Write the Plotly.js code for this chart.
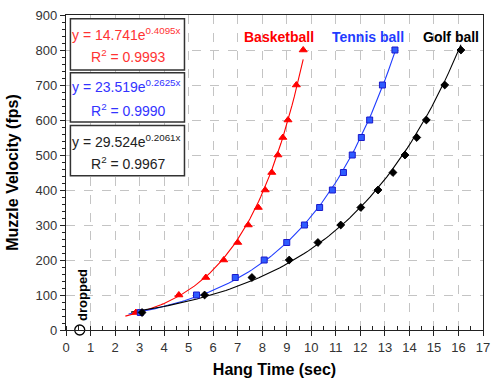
<!DOCTYPE html>
<html><head><meta charset="utf-8">
<script src="https://cdn.plot.ly/plotly-3.0.1.min.js"></script>
<style>html,body{margin:0;padding:0;background:#fff}</style>
</head><body><div id="chart" style="width:497px;height:388px"></div>
<script>
const velocity = [50,100,150,200,250,300,350,400,450,500,550,600,700,800];
const basketballTime = [2.85,4.6,5.7,6.43,7.0,7.43,7.84,8.12,8.39,8.64,8.84,9.05,9.39,9.67];
const tennisTime = [3.03,5.32,6.9,8.08,9.0,9.72,10.34,10.86,11.31,11.67,12.04,12.38,12.9,13.41];
const golfTime = [3.1,5.65,7.58,9.1,10.27,11.2,12.02,12.72,13.33,13.82,14.3,14.69,15.44,16.1];
const seriesNames = ['Basketball','Tennis ball','Golf ball'];
const seriesColors = ['#ff0000','#1f3cff','#000000'];
const fitA = [14.741, 23.519, 29.524];
const fitB = [0.4095, 0.2625, 0.2061];
const fitR2 = ['0.9993','0.9990','0.9967'];
const fitStart = [2.42, 2.55, 2.65];
const fitEnd = [9.67, 13.41, 16.1];
const droppedTime = [0.56];
const droppedVelocity = [0];
const droppedLabel = 'dropped';

const FONT = 'Liberation Sans, Arial, sans-serif';
const times = [basketballTime, tennisTime, golfTime];
const symbols = ['triangle-up','square','diamond'];
const markerFill = ['#ff0000','#2e5bff','#000000'];
const markerLine = ['#ff0000','#1a1acc','#000000'];
const markerSize = [7,6,6];

const traces = [];
for (let i = 0; i < 3; i++) {
  const fx = [], fy = [];
  const n = 80;
  for (let k = 0; k <= n; k++) {
    const x = fitStart[i] + (fitEnd[i] - fitStart[i]) * k / n;
    fx.push(x); fy.push(fitA[i] * Math.exp(fitB[i] * x));
  }
  traces.push({x: fx, y: fy, mode: 'lines', line: {color: seriesColors[i], width: 1.1}, hoverinfo: 'skip', showlegend: false});
}
for (let i = 0; i < 3; i++) {
  traces.push({x: times[i], y: velocity, mode: 'markers', name: seriesNames[i], showlegend: false,
    marker: {symbol: symbols[i], size: markerSize[i], color: markerFill[i], line: {color: markerLine[i], width: 1}}, cliponaxis: false});
}
traces.push({x: droppedTime, y: droppedVelocity, mode: 'markers', showlegend: false, cliponaxis: false,
  marker: {symbol: 'circle', size: 10, color: '#fff'}});
traces.push({x: droppedTime, y: droppedVelocity, mode: 'markers', showlegend: false, cliponaxis: false,
  marker: {symbol: 'circle-open', size: 10, color: '#000', line: {width: 1.3}}});

const annotations = [];
const labelX = [8.68, 12.31, 15.71];
for (let i = 0; i < 3; i++) {
  annotations.push({x: labelX[i], y: 836, xref: 'x', yref: 'y', text: '<b>' + seriesNames[i] + '</b>', showarrow: false,
    font: {family: FONT, size: 14, color: seriesColors[i]}, xanchor: 'center', yanchor: 'middle'});
}
const boxBottom = [743, 594, 441];
const boxTop = [889, 735, 584];
const line1Y = [846, 697, 540];
const line2Y = [783, 629, 477];
const eqColors = ['#ff3333','#3333ff','#222222'];
const shapes = [];
for (let i = 0; i < 3; i++) {
  shapes.push({type: 'rect', xref: 'x', yref: 'y', x0: 0.18, x1: 4.83, y0: boxBottom[i], y1: boxTop[i],
    line: {color: '#333', width: 1.5}, fillcolor: '#fff', layer: 'above'});
  annotations.push({x: 2.45, y: line1Y[i], xref: 'x', yref: 'y', showarrow: false,
    text: 'y = ' + fitA[i].toFixed(3) + 'e<sup>' + fitB[i].toFixed(4) + 'x</sup>',
    font: {family: FONT, size: 14, color: eqColors[i]}, xanchor: 'center', yanchor: 'middle'});
  annotations.push({x: 2.55, y: line2Y[i], xref: 'x', yref: 'y', showarrow: false,
    text: 'R<sup>2</sup> = ' + fitR2[i],
    font: {family: FONT, size: 14, color: eqColors[i]}, xanchor: 'center', yanchor: 'middle'});
}
annotations.push({x: 0.65, y: 100, xref: 'x', yref: 'y', text: '<b>' + droppedLabel + '</b>', showarrow: false, textangle: -90,
  font: {family: FONT, size: 13, color: '#000'}, xanchor: 'center', yanchor: 'middle'});

const layout = {
  width: 497, height: 388,
  margin: {l: 66, r: 14, t: 15, b: 58, pad: 0},
  paper_bgcolor: '#fff', plot_bgcolor: '#fff',
  font: {family: FONT, size: 13, color: '#333'},
  showlegend: false,
  xaxis: {range: [0, 17], tickmode: 'linear', tick0: 0, dtick: 1, fixedrange: true,
    showgrid: true, gridcolor: '#c4c4c4', griddash: 'dash', gridwidth: 1, zeroline: false,
    showline: true, linecolor: '#222', linewidth: 1.2, mirror: true,
    ticks: 'outside', ticklen: 5, tickcolor: '#222', tickwidth: 1,
    minor: {dtick: 0.5, ticks: 'inside', ticklen: 4, tickcolor: '#222', showgrid: false},
    tickfont: {family: FONT, size: 13, color: '#333'},
    title: {text: '<b>Hang Time (sec)</b>', font: {family: FONT, size: 16, color: '#000'}, standoff: 10}},
  yaxis: {range: [0, 900], tickmode: 'linear', tick0: 0, dtick: 100, fixedrange: true,
    showgrid: true, gridcolor: '#c4c4c4', griddash: 'dash', gridwidth: 1, zeroline: false,
    showline: true, linecolor: '#222', linewidth: 1.2, mirror: true,
    ticks: 'outside', ticklen: 5, tickcolor: '#222', tickwidth: 1,
    minor: {dtick: 20, ticks: 'outside', ticklen: 3, tickcolor: '#222', showgrid: false},
    tickfont: {family: FONT, size: 13, color: '#333'},
    title: {text: '<b>Muzzle Velocity (fps)</b>', font: {family: FONT, size: 16, color: '#000'}, standoff: 12}},
  shapes: shapes,
  annotations: annotations
};
Plotly.newPlot('chart', traces, layout, {displayModeBar: false, staticPlot: true});
</script></body></html>
